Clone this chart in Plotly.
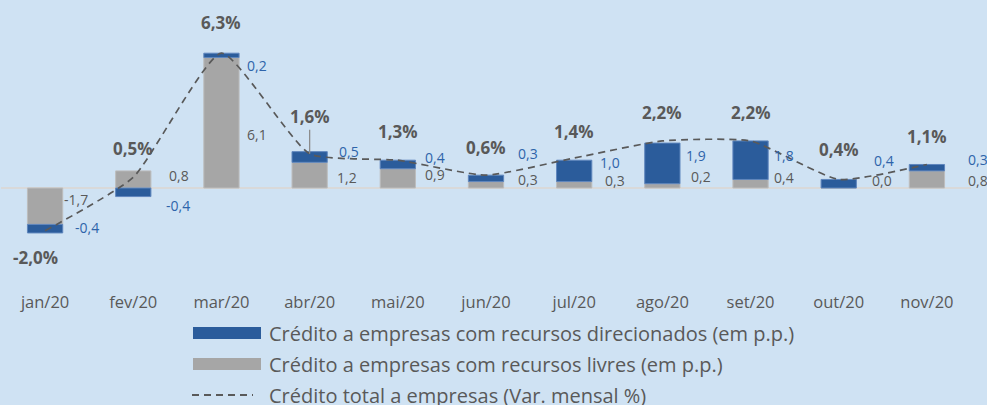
import plotly.graph_objects as go

months = ["jan/20", "fev/20", "mar/20", "abr/20", "mai/20", "jun/20",
          "jul/20", "ago/20", "set/20", "out/20", "nov/20"]
livres = [-1.7, 0.8, 6.1, 1.2, 0.9, 0.3, 0.3, 0.2, 0.4, 0.0, 0.8]
direcionados = [-0.4, -0.4, 0.2, 0.5, 0.4, 0.3, 1.0, 1.9, 1.8, 0.4, 0.3]
total = [-2.0, 0.5, 6.3, 1.6, 1.3, 0.6, 1.4, 2.2, 2.2, 0.4, 1.1]

name_dir = "Crédito a empresas com recursos direcionados (em p.p.)"
name_liv = "Crédito a empresas com recursos livres (em p.p.)"
name_tot = "Crédito total a empresas (Var. mensal %)"

# label placement (layout only)
liv_label_y = [-0.56, 0.6, 2.51, 0.47, 0.65, 0.42, 0.37, 0.56, 0.51, 0.37, 0.37]
dir_label_y = [-1.86, -0.84, 5.72, 1.72, 1.44, 1.63, 1.21, 1.53, 1.53, 1.30, 1.35]
liv_label_dx = [17, 34, 24, 25, 25, 30, 29, 27, 21, 31, 39]
dir_label_dx = [28, 31, 24, 27, 25, 30, 24, 22, 21, 33, 39]
tot_label_dy = [-27, 29, 31, 37, 29, 28, 27, 28, 28, 30, 28]
tot_label_dx = [-10, 0, 0, 0, 0, 0, 0, 0, 0, 0, 0]

BLUE = "#2B5C9B"
GRAY = "#A6A6A6"
TXT = "#595959"
BLUE_TXT = "#2E64AA"
BG = "#CFE2F3"
FONT = "Open Sans"

W, H = 987, 405
ML, MR, MT, MB = 1, 16, 10, 115
PW, PH = W - ML - MR, H - MT - MB


def px_x(px):
    return (px - ML) / PW


def px_y(py):
    return (H - MB - py) / PH


fig = go.Figure()
fig.add_trace(go.Bar(x=months, y=livres, marker=dict(color=GRAY, line=dict(color="#BDBDBD", width=1)),
                     width=0.4, showlegend=False, name=name_liv))
fig.add_trace(go.Bar(x=months, y=direcionados, marker=dict(color=BLUE, line=dict(color="#5F86BD", width=1)),
                     width=0.4, showlegend=False, name=name_dir))
fig.add_trace(go.Scatter(x=months, y=total, mode="lines",
                         line=dict(color=TXT, width=1.7, dash="7px,5px", shape="spline", smoothing=0.5),
                         showlegend=False, name=name_tot))


def fmt(v, pct=False):
    s = f"{v:.1f}".replace(".", ",")
    return s + ("%" if pct else "")


ann = []
for i, m in enumerate(months):
    ann.append(dict(x=m, y=liv_label_y[i], text=fmt(livres[i]), showarrow=False, xanchor="left",
                    xshift=liv_label_dx[i], font=dict(family=FONT, size=14, color=TXT)))
    ann.append(dict(x=m, y=dir_label_y[i], text=fmt(direcionados[i]), showarrow=False, xanchor="left",
                    xshift=dir_label_dx[i], font=dict(family=FONT, size=14, color=BLUE_TXT)))
    if i == 3:
        ann.append(dict(x=m, y=total[i], text="<b>" + fmt(total[i], True) + "</b>", showarrow=True,
                        arrowhead=0, arrowwidth=1.3, arrowcolor="#8C8C8C", ax=0, ay=-tot_label_dy[i],
                        font=dict(family=FONT, size=17, color=TXT)))
    else:
        ann.append(dict(x=m, y=total[i], text="<b>" + fmt(total[i], True) + "</b>", showarrow=False,
                        yshift=tot_label_dy[i], xshift=tot_label_dx[i],
                        font=dict(family=FONT, size=17, color=TXT)))

# manual legend (drawn in paper coordinates)
shapes = [
    dict(type="rect", xref="paper", yref="paper", x0=px_x(193), x1=px_x(261), y0=px_y(339), y1=px_y(327),
         fillcolor=BLUE, line=dict(width=0)),
    dict(type="rect", xref="paper", yref="paper", x0=px_x(193), x1=px_x(261), y0=px_y(370), y1=px_y(358),
         fillcolor=GRAY, line=dict(width=0)),
    dict(type="line", xref="paper", yref="paper", x0=px_x(192), x1=px_x(253), y0=px_y(395), y1=px_y(395),
         line=dict(color=TXT, width=2, dash="7px,5px")),
]
for name, py in [(name_dir, 333), (name_liv, 364), (name_tot, 395)]:
    ann.append(dict(xref="paper", yref="paper", x=px_x(267), y=px_y(py), text=name, showarrow=False,
                    xanchor="left", yanchor="middle", font=dict(family=FONT, size=20, color=TXT)))

fig.update_layout(
    width=W, height=H,
    margin=dict(l=ML, r=MR, t=MT, b=MB, autoexpand=False),
    paper_bgcolor=BG, plot_bgcolor=BG,
    barmode="relative",
    font=dict(family=FONT, size=14, color=TXT),
    showlegend=False,
    xaxis=dict(range=[-0.5, 10.5], showgrid=False, showline=False, ticks="",
               tickfont=dict(family=FONT, size=16.5, color=TXT)),
    yaxis=dict(range=[-4.766, 8.318], showgrid=False, showticklabels=False,
               zeroline=True, zerolinecolor="#D9D9D9", zerolinewidth=2),
    annotations=ann,
    shapes=shapes,
)

fig.write_html("out.html")
